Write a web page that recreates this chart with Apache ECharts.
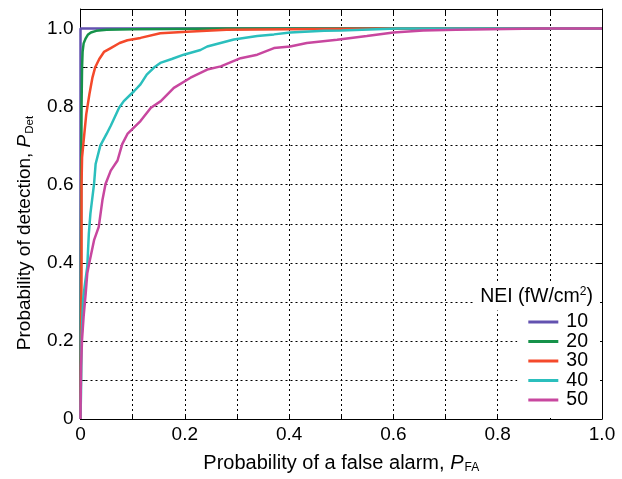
<!DOCTYPE html>
<html>
<head>
<meta charset="utf-8">
<script src="https://cdn.jsdelivr.net/npm/echarts@6/dist/echarts.min.js"></script>
<style>
html,body{margin:0;padding:0;background:#fff;}
#chart{width:622px;height:479px;}
</style>
</head>
<body>
<div id="chart"></div>
<script>
// ---- data ----
const seriesNames = ['10', '20', '30', '40', '50'];
const seriesColors = ['#6352b0', '#16924a', '#f4492b', '#2bbfbd', '#c8479f'];

const nei10 = [[0,0],[0,1],[1,1]];
const nei20 = [[0,0],[0.001,0.5],[0.002,0.8],[0.003,0.9],[0.004,0.94],[0.006,0.962],[0.01,0.975],[0.014,0.984],[0.02,0.99],[0.03,0.994],[0.05,0.997],[0.1,0.998],[0.28,1.0],[1,1]];
const nei30 = [[0,0],[0.001,0.15],[0.002,0.4],[0.002,0.6],[0.003,0.67],[0.006,0.712],[0.011,0.78],[0.017,0.831],[0.023,0.875],[0.028,0.9],[0.036,0.922],[0.045,0.94],[0.058,0.95],[0.075,0.963],[0.09,0.97],[0.115,0.976],[0.153,0.988],[0.204,0.992],[0.28,0.997],[0.4,0.998],[0.6,1.0],[1,1]];
const nei40 = [[0,0],[0.001,0.07],[0.002,0.2],[0.003,0.24],[0.005,0.305],[0.008,0.34],[0.013,0.39],[0.016,0.475],[0.019,0.526],[0.026,0.602],[0.029,0.653],[0.038,0.70],[0.05,0.73],[0.058,0.751],[0.074,0.797],[0.083,0.814],[0.103,0.84],[0.115,0.857],[0.127,0.882],[0.141,0.9],[0.153,0.912],[0.175,0.922],[0.198,0.933],[0.23,0.945],[0.243,0.954],[0.294,0.972],[0.339,0.981],[0.371,0.985],[0.402,0.99],[0.467,0.994],[0.5,0.995],[0.607,1.0],[1,1]];
const nei50 = [[0,0],[0.001,0.136],[0.003,0.204],[0.006,0.263],[0.01,0.322],[0.013,0.373],[0.018,0.407],[0.026,0.458],[0.035,0.492],[0.042,0.56],[0.048,0.602],[0.058,0.636],[0.071,0.662],[0.08,0.704],[0.09,0.73],[0.115,0.763],[0.135,0.797],[0.154,0.814],[0.179,0.848],[0.211,0.874],[0.243,0.895],[0.269,0.903],[0.307,0.924],[0.339,0.933],[0.371,0.95],[0.402,0.954],[0.434,0.963],[0.492,0.971],[0.549,0.981],[0.6,0.99],[0.657,0.995],[0.72,0.997],[0.88,1.0],[1,1]];
const seriesData = [nei10, nei20, nei30, nei40, nei50];

const xTickLabels = ['0', '0.2', '0.4', '0.6', '0.8', '1.0'];
const yTickLabels = ['0', '0.2', '0.4', '0.6', '0.8', '1.0'];

// ---- chart ----
const FONT = '"Liberation Sans", Arial, Helvetica, sans-serif';
const chart = echarts.init(document.getElementById('chart'), null, {renderer: 'canvas'});

function labelFmt(list) {
  return function (v) {
    const k = Math.round(v * 10);
    if (Math.abs(v * 10 - k) > 1e-6 || k % 2 !== 0) return '';
    return list[k / 2] !== undefined ? list[k / 2] : '';
  };
}

const gridDash = {show: true, lineStyle: {color: '#000', width: 1, type: [2, 3]}};
const tickIn = {show: true, inside: true, length: 5, lineStyle: {color: '#000', width: 1}};
const axisLine = {show: true, onZero: false, lineStyle: {color: '#000', width: 1}};

const option = {
  animation: false,
  backgroundColor: '#fff',
  textStyle: {fontFamily: FONT},
  grid: {left: 80.5, right: 20, top: 9, bottom: 59, containLabel: false},
  title: {
    text: 'NEI (fW/cm{sup|2})',
    right: 22, top: 282,
    backgroundColor: '#fff',
    padding: [4, 7, 4, 7],
    textStyle: {
      fontFamily: FONT, fontSize: 19.5, fontWeight: 'normal', color: '#000',
      rich: {sup: {fontFamily: FONT, fontSize: 12, color: '#000', padding: [0, 0, 9, 0]}}
    }
  },
  legend: {
    data: seriesNames,
    orient: 'vertical',
    right: 22, top: 310,
    align: 'left',
    icon: 'rect',
    itemWidth: 30, itemHeight: 3,
    itemGap: -0.5,
    backgroundColor: '#fff',
    padding: [2, 12, 8, 11],
    textStyle: {fontFamily: FONT, fontSize: 19.5, color: '#000', lineHeight: 18, padding: [0, 0, 0, 3]}
  },
  xAxis: [{
    type: 'value', min: 0, max: 1, interval: 0.1, position: 'bottom',
    axisLine: axisLine, axisTick: tickIn, splitLine: gridDash,
    axisLabel: {show: true, margin: 6, fontFamily: FONT, fontSize: 19, color: '#000', formatter: labelFmt(xTickLabels)},
    name: 'Probability of a false alarm, {i|P}{s|FA}',
    nameLocation: 'middle', nameGap: 33,
    nameTextStyle: {
      fontFamily: FONT, fontSize: 20, color: '#000',
      rich: {
        i: {fontFamily: FONT, fontSize: 20, fontStyle: 'italic', color: '#000'},
        s: {fontFamily: FONT, fontSize: 12, color: '#000', padding: [10, 0, 0, 1]}
      }
    }
  }, {
    type: 'value', min: 0, max: 1, interval: 0.1, position: 'top',
    axisLine: axisLine, axisTick: tickIn, splitLine: {show: false}, axisLabel: {show: false}
  }],
  yAxis: [{
    type: 'value', min: 0, max: 1.05, interval: 0.1, position: 'left',
    axisLine: axisLine, axisTick: tickIn, splitLine: gridDash,
    axisLabel: {show: true, margin: 7, fontFamily: FONT, fontSize: 19, color: '#000', formatter: labelFmt(yTickLabels)},
    name: 'Probability of detection, {i|P}{s|Det}',
    nameLocation: 'middle', nameGap: 42, nameRotate: 90,
    nameTextStyle: {
      fontFamily: FONT, fontSize: 19, color: '#000', padding: [0, 38, 0, 0],
      rich: {
        i: {fontFamily: FONT, fontSize: 19, fontStyle: 'italic', color: '#000'},
        s: {fontFamily: FONT, fontSize: 11.5, color: '#000', padding: [10, 0, 0, 1]}
      }
    }
  }, {
    type: 'value', min: 0, max: 1.05, interval: 0.1, position: 'right',
    axisLine: axisLine, axisTick: tickIn, splitLine: {show: false}, axisLabel: {show: false}
  }],
  series: seriesNames.map(function (n, i) {
    return {
      name: n, type: 'line', xAxisIndex: 0, yAxisIndex: 0,
      data: seriesData[i], symbol: 'none', showSymbol: false,
      color: seriesColors[i],
      lineStyle: {color: seriesColors[i], width: 2.5},
      z: 2 + i
    };
  })
};
chart.setOption(option);
</script>
</body>
</html>
